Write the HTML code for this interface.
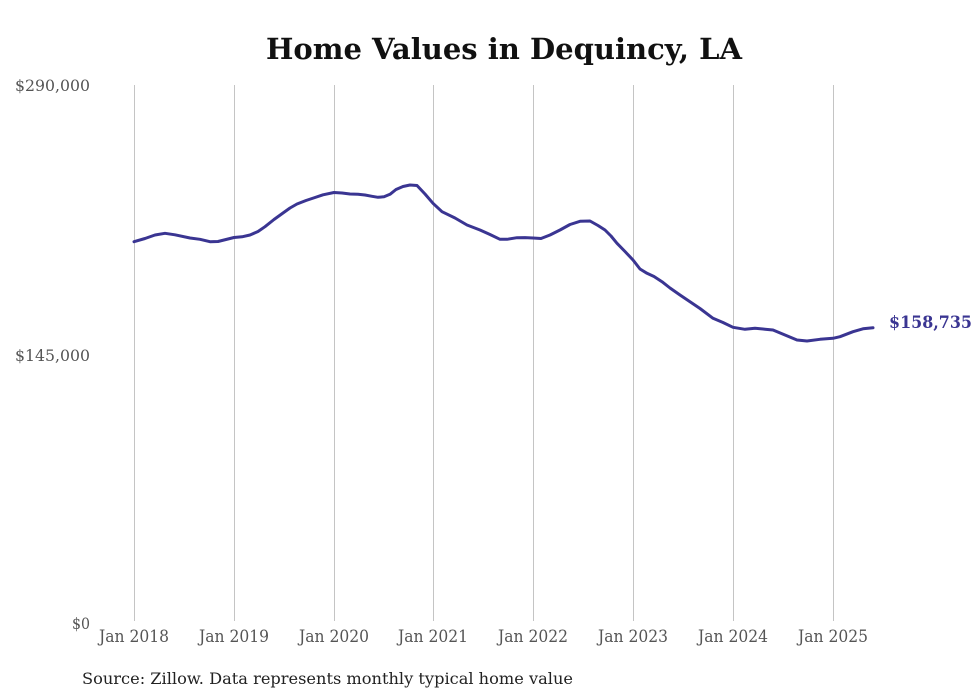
<!DOCTYPE html>
<html>
<head>
<meta charset="utf-8">
<style>
html,body{margin:0;padding:0;background:#fff;}
svg{display:block;}
text{font-family:"DejaVu Serif","Liberation Serif",serif;}
</style>
</head>
<body>
<svg width="980" height="699" viewBox="0 0 980 699" xmlns="http://www.w3.org/2000/svg">
<rect width="980" height="699" fill="#fff"/>
<text x="504" y="59" text-anchor="middle" font-size="29" font-weight="bold" fill="#111" textLength="476" lengthAdjust="spacingAndGlyphs">Home Values in Dequincy, LA</text>

<g stroke="#c4c4c4" stroke-width="1">
<line x1="134.5" y1="85" x2="134.5" y2="621"/>
<line x1="234.5" y1="85" x2="234.5" y2="621"/>
<line x1="334.5" y1="85" x2="334.5" y2="621"/>
<line x1="433.5" y1="85" x2="433.5" y2="621"/>
<line x1="533.5" y1="85" x2="533.5" y2="621"/>
<line x1="633.5" y1="85" x2="633.5" y2="621"/>
<line x1="733.5" y1="85" x2="733.5" y2="621"/>
<line x1="833.5" y1="85" x2="833.5" y2="621"/>
</g>

<g font-size="16" fill="#555">
<text x="15" y="91" textLength="75" lengthAdjust="spacingAndGlyphs">$290,000</text>
<text x="15" y="361" textLength="75" lengthAdjust="spacingAndGlyphs">$145,000</text>
<text x="72" y="629" textLength="18" lengthAdjust="spacingAndGlyphs">$0</text>
</g>

<g font-size="17" fill="#555" text-anchor="middle">
<text x="134" y="642" textLength="70" lengthAdjust="spacingAndGlyphs">Jan 2018</text>
<text x="234" y="642" textLength="70" lengthAdjust="spacingAndGlyphs">Jan 2019</text>
<text x="334" y="642" textLength="70" lengthAdjust="spacingAndGlyphs">Jan 2020</text>
<text x="433" y="642" textLength="70" lengthAdjust="spacingAndGlyphs">Jan 2021</text>
<text x="533" y="642" textLength="70" lengthAdjust="spacingAndGlyphs">Jan 2022</text>
<text x="633" y="642" textLength="70" lengthAdjust="spacingAndGlyphs">Jan 2023</text>
<text x="733" y="642" textLength="70" lengthAdjust="spacingAndGlyphs">Jan 2024</text>
<text x="833" y="642" textLength="70" lengthAdjust="spacingAndGlyphs">Jan 2025</text>
</g>

<polyline fill="none" stroke="#3a3592" stroke-width="3" stroke-linejoin="round" stroke-linecap="round"
points="134,241.7 145,238.5 155,235 165,233.3 175,234.8 190,238 200,239.3 210,241.7 218,241.5 226,239.5 234,237.5 242,236.8 250,235 258,231.5 265,226.7 274,219.5 283,213 290,208 297,204 306,200.5 315,197.5 323,194.8 334,192.5 342,193 350,194 358,194.3 365,195 372,196.3 378,197.3 384,196.8 390,194.3 396,189.5 403,186.5 410,185 417,185.5 425,194 433,203.3 442,211.7 455,218 467,225 480,230 490,234.5 500,239.3 507,239.3 517,237.7 525,237.6 533,238 541,238.5 550,235 560,230 570,224.5 580,221.3 590,221 598,225.5 605,230 611,236 617,243.3 625,251.5 633,260 640,269 647,273.3 654,276.5 662,281.7 670,288 680,295 690,301.7 700,308.5 713,318.3 723,322.5 733,327.3 745,329.3 755,328.3 765,329.2 773,330 785,335 797,340 807,341 820,339.3 833,338.3 840,336.7 853,331.7 863,328.8 873,327.7"/>

<text x="889" y="328" font-size="17" font-weight="bold" fill="#3a3592" textLength="83" lengthAdjust="spacingAndGlyphs">$158,735</text>

<text x="82" y="684" font-size="16" fill="#222" textLength="491" lengthAdjust="spacingAndGlyphs">Source: Zillow. Data represents monthly typical home value</text>
</svg>
</body>
</html>
